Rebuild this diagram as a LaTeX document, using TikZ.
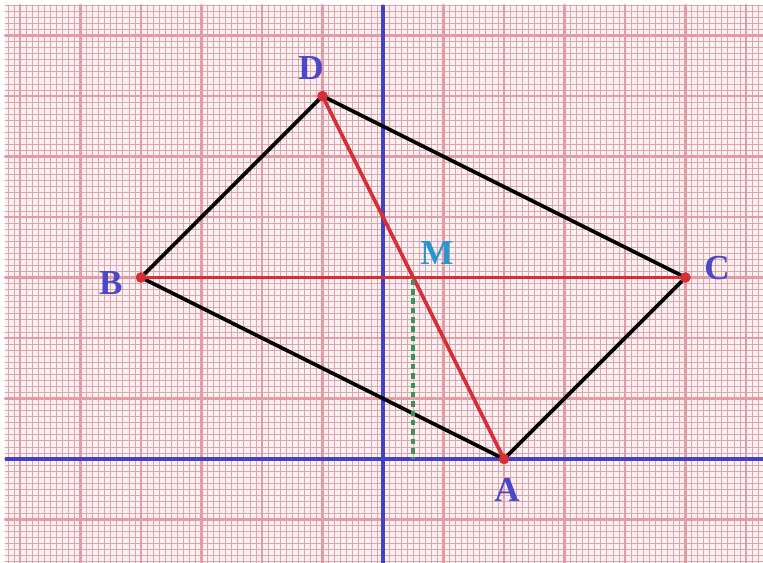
\documentclass[tikz,border=0pt]{standalone}
\usepackage{fontspec}
\setmainfont{Liberation Serif}
\usetikzlibrary{calc}

\definecolor{paper}{RGB}{253,240,242}
\definecolor{gridminor}{RGB}{216,168,174}
\definecolor{gridmajor}{RGB}{228,156,164}
\definecolor{axisblue}{RGB}{66,66,196}
\definecolor{segred}{RGB}{214,48,54}
\definecolor{footgreen}{RGB}{56,150,84}
\definecolor{lblblue}{RGB}{72,72,200}
\definecolor{lblcyan}{RGB}{40,150,210}

\begin{document}
\begin{tikzpicture}[x=1cm, y=1cm, line cap=round, line join=round,
  lbl/.style={inner sep=0pt, text=lblblue, font=\fontsize{16.5}{19}\selectfont\bfseries},
  axisline/.style={axisblue, line width=1.7pt, line cap=butt},
  edge/.style={black, line width=1.7pt},
  diag/.style={segred, line width=1.7pt},
  foot/.style={footgreen, line width=2pt, dash pattern=on 2.6pt off 1.8pt, line cap=butt},
  vdot/.style={circle, fill=segred, inner sep=0pt, minimum size=5pt}]

  %% ════ 方格纸 ════
  \fill[white] (-6.331,-1.719) rectangle (6.281,7.587);
  \fill[paper] (-6.248,-1.719) rectangle (6.281,7.504);
  \draw[gridminor, line width=0.35pt, step=0.1] (-6.248,-1.719) grid (6.281,7.504);
  \draw[gridmajor, line width=1.0pt, step=1] (-6.248,-1.719) grid (6.281,7.504);

  %% ════ 坐标轴 ════
  \draw[axisline] (-6.248,0) -- (6.281,0);
  \draw[axisline] (0,-1.719) -- (0,7.504);

  %% ════ 顶点（单位 = 大格）════
  \coordinate (A) at (2,0);
  \coordinate (B) at (-4,3);
  \coordinate (C) at (5,3);
  \coordinate (D) at (-1,6);
  \coordinate (M) at ($(A)!0.5!(D)$);
  \coordinate (H) at (M |- A);

  %% ════ 四边形与对角线 ════
  \draw[edge] (B) -- (D) -- (C) -- (A) -- cycle;
  \draw[diag] (B) -- (C);
  \draw[diag] (D) -- (A);
  \draw[foot] ([yshift=-1pt]M) -- (H);

  \foreach \p in {A,B,C,D} \node[vdot] (dot\p) at (\p) {};

  %% ════ 标签 ════
  \node[lbl] (lA) at (2.05,-0.51) {A};
  \node[lbl] (lB) at (-4.50,2.91) {B};
  \node[lbl] (lC) at (5.52,3.16) {C};
  \node[lbl] (lD) at (-1.19,6.46) {D};
  \node[lbl, text=lblcyan] (lM) at (0.89,3.40) {M};

  % 钉死画布
  \pgfresetboundingbox
  \path[use as bounding box] (-6.331,-1.719) rectangle (6.281,7.587);
\end{tikzpicture}
\end{document}
